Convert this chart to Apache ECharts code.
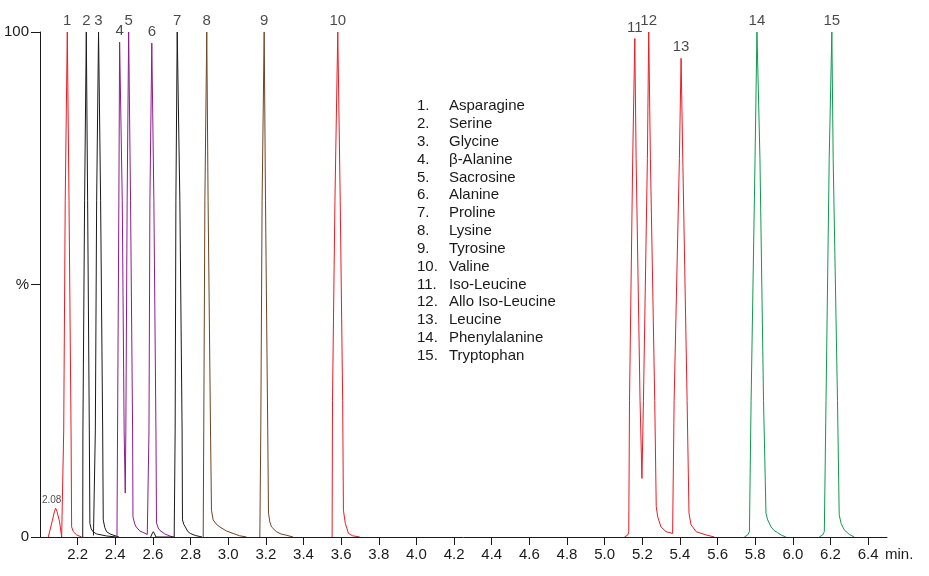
<!DOCTYPE html>
<html>
<head>
<meta charset="utf-8">
<title>Amino acid chromatogram</title>
<script src="https://cdn.jsdelivr.net/npm/echarts@6/dist/echarts.min.js"></script>
<style>
  html, body { margin: 0; padding: 0; background: #fff; }
  #chart { width: 929px; height: 576px; }
</style>
</head>
<body>
<div id="chart"></div>
<script>
// retention time (min) / relative intensity (%)
var xTicks = [2.2, 2.4, 2.6, 2.8, 3.0, 3.2, 3.4, 3.6, 3.8, 4.0, 4.2, 4.4, 4.6, 4.8, 5.0, 5.2, 5.4, 5.6, 5.8, 6.0, 6.2, 6.4];

var compounds = ['Asparagine', 'Serine', 'Glycine', 'β-Alanine', 'Sacrosine', 'Alanine', 'Proline', 'Lysine',
  'Tyrosine', 'Valine', 'Iso-Leucine', 'Allo Iso-Leucine', 'Leucine', 'Phenylalanine', 'Tryptophan'];

// small peak at 2.08 + peak 1
var traceAsparagine = [[2.044, 0], [2.064, 3.0], [2.077, 5.1], [2.083, 5.7], [2.090, 5.1], [2.104, 3.0], [2.115, 0],
  [2.124, 0], [2.126, 21], [2.134, 66.7], [2.145, 100], [2.154, 66.7], [2.165, 21], [2.168, 2.0], [2.177, 1.05],
  [2.195, 0.4], [2.221, 0]];
var traceSerine = [[2.227, 0], [2.228, 21], [2.237, 66.7], [2.246, 100], [2.253, 66.7], [2.262, 21], [2.265, 2.7],
  [2.272, 1.6], [2.283, 1.0], [2.301, 0.6], [2.354, 0.2], [2.407, 0]];
var traceGlycine = [[2.284, 0.3], [2.294, 21], [2.301, 66.7], [2.311, 100], [2.322, 66.7], [2.333, 21], [2.336, 3.4],
  [2.344, 1.9], [2.354, 1.05], [2.372, 0.6], [2.407, 0.15], [2.420, 0]];
// beta-alanine, sarcosine, alanine share one channel
var traceAlanines = [[2.409, 0], [2.412, 21], [2.419, 66.7], [2.423, 98], [2.437, 66.7], [2.447, 21], [2.453, 8.7],
  [2.456, 21], [2.463, 66.7], [2.471, 100], [2.481, 66.7], [2.492, 21], [2.494, 4.0], [2.503, 2.6], [2.511, 2.0],
  [2.530, 1.2], [2.548, 0.9], [2.570, 0.5], [2.577, 0.4], [2.579, 21], [2.584, 66.7], [2.594, 97.8], [2.605, 66.7],
  [2.616, 21], [2.619, 2.8], [2.628, 1.8], [2.637, 1.3], [2.663, 0.6], [2.690, 0.2], [2.708, 0]];
var traceProline = [[2.588, 0], [2.595, 0.6], [2.602, 1.05], [2.609, 0.6], [2.616, 0], [2.713, 0], [2.718, 21],
  [2.722, 66.7], [2.729, 100], [2.743, 66.7], [2.755, 21], [2.757, 3.4], [2.764, 2.5], [2.772, 2.0], [2.785, 1.1],
  [2.799, 0.7], [2.825, 0.3], [2.861, 0]];
var traceLysine = [[2.867, 0], [2.870, 21], [2.876, 66.7], [2.886, 100], [2.893, 66.7], [2.906, 21], [2.911, 5.3],
  [2.920, 3.4], [2.935, 2.6], [2.955, 2.0], [2.990, 1.2], [3.026, 0.7], [3.060, 0.25], [3.097, 0]];
var traceTyrosine = [[3.168, 0], [3.173, 21], [3.180, 66.7], [3.191, 100], [3.198, 66.7], [3.210, 21], [3.214, 4.7],
  [3.221, 3.0], [3.230, 2.0], [3.256, 1.05], [3.280, 0.6], [3.309, 0.35], [3.344, 0]];
var traceValine = [[3.552, 0], [3.554, 27], [3.567, 66.7], [3.582, 100], [3.595, 66.7], [3.608, 27], [3.612, 5.3],
  [3.622, 2.7], [3.639, 0.7], [3.660, 0.25], [3.699, 0]];
// iso-leucine, allo iso-leucine, leucine share one channel
var traceLeucines = [[5.105, 0], [5.123, 0.4], [5.128, 1.05], [5.132, 27], [5.149, 75], [5.160, 98.7], [5.167, 75],
  [5.188, 27], [5.198, 11.6], [5.206, 27], [5.227, 75], [5.234, 100], [5.243, 75], [5.266, 27], [5.274, 6.0],
  [5.282, 4.0], [5.299, 2.0], [5.326, 1.05], [5.361, 0.7], [5.369, 27], [5.397, 75], [5.406, 94.8], [5.415, 75],
  [5.438, 27], [5.448, 4.7], [5.459, 2.4], [5.486, 1.05], [5.539, 0.4], [5.583, 0]];
var tracePhenylalanine = [[5.742, 0], [5.760, 0.4], [5.769, 1.05], [5.778, 27], [5.799, 75], [5.809, 100],
  [5.825, 75], [5.844, 27], [5.857, 4.7], [5.866, 3.4], [5.884, 2.0], [5.900, 1.3], [5.919, 0.85], [5.940, 0.35],
  [5.963, 0]];
var traceTryptophan = [[6.140, 0], [6.158, 0.4], [6.167, 1.05], [6.176, 27], [6.193, 75], [6.207, 100], [6.214, 75],
  [6.237, 27], [6.246, 4.4], [6.256, 2.7], [6.273, 1.4], [6.300, 0.5], [6.326, 0]];

// peak number labels: [time, height, text]
var peakLabels = [[2.145, 100, '1'], [2.246, 100, '2'], [2.311, 100, '3'], [2.423, 98, '4'], [2.471, 100, '5'],
  [2.594, 97.8, '6'], [2.729, 100, '7'], [2.886, 100, '8'], [3.191, 100, '9'], [3.582, 100, '10'],
  [5.160, 98.7, '11'], [5.234, 100, '12'], [5.406, 94.8, '13'], [5.809, 100, '14'], [6.207, 100, '15']];
var smallLabels = [[2.083, 5.7, '2.08']];

var RED = '#ec1c24', BLACK = '#1a1a1a', PURPLE = '#8c1c8c', BROWN = '#6e4523', GREEN = '#0f9a4e';
var FONT = 'Liberation Sans, Arial, Helvetica, sans-serif';

var chart = echarts.init(document.getElementById('chart'), null, { renderer: 'canvas' });

function trace(name, data, color) {
  return {
    name: name,
    type: 'line',
    data: data,
    showSymbol: false,
    symbol: 'none',
    smooth: false,
    clip: false,
    animation: false,
    lineStyle: { color: color, width: 1 },
    z: 2
  };
}

var legendText = [];
compounds.forEach(function (c, i) {
  var y = 106 + i * 17.84;
  legendText.push({
    type: 'text', x: 417, y: y,
    style: { text: (i + 1) + '.', font: '15px ' + FONT, fill: '#1a1a1a', verticalAlign: 'middle' }
  });
  legendText.push({
    type: 'text', x: 449, y: y,
    style: { text: c, font: '15px ' + FONT, fill: '#1a1a1a', verticalAlign: 'middle' }
  });
});

var option = {
  animation: false,
  backgroundColor: '#fff',
  textStyle: { fontFamily: FONT, color: '#1a1a1a' },
  grid: { left: 40, right: 42, top: 32, bottom: 39, containLabel: false, outerBoundsMode: 'none' },
  xAxis: {
    type: 'value',
    min: 2.0,
    max: 6.5,
    z: 10,
    name: 'min.',
    nameLocation: 'end',
    nameGap: -2,
    nameTextStyle: { fontSize: 15, color: '#1a1a1a', fontFamily: FONT, verticalAlign: 'top', padding: [10, 0, 0, 0] },
    axisLine: { lineStyle: { color: '#1a1a1a', width: 1 } },
    axisTick: { customValues: xTicks, length: 8, lineStyle: { color: '#1a1a1a' } },
    axisLabel: {
      customValues: xTicks, margin: 10, fontSize: 15, color: '#1a1a1a', fontFamily: FONT,
      formatter: function (v) { return v.toFixed(1); }
    },
    splitLine: { show: false }
  },
  yAxis: {
    type: 'value',
    min: 0,
    max: 100,
    interval: 50,
    z: 10,
    axisLine: { show: true, lineStyle: { color: '#1a1a1a', width: 1 } },
    axisTick: { show: true, length: 9, lineStyle: { color: '#1a1a1a' } },
    axisLabel: {
      margin: 11, fontSize: 15, color: '#1a1a1a', fontFamily: FONT,
      formatter: function (v) { return v === 50 ? '%' : String(v); }
    },
    splitLine: { show: false }
  },
  series: [
    trace('Asparagine', traceAsparagine, RED),
    trace('Serine', traceSerine, BLACK),
    trace('Glycine', traceGlycine, BLACK),
    trace('Alanines', traceAlanines, PURPLE),
    trace('Proline', traceProline, BLACK),
    trace('Lysine', traceLysine, BROWN),
    trace('Tyrosine', traceTyrosine, BROWN),
    trace('Valine', traceValine, RED),
    trace('Leucines', traceLeucines, RED),
    trace('Phenylalanine', tracePhenylalanine, GREEN),
    trace('Tryptophan', traceTryptophan, GREEN),
    {
      type: 'scatter',
      data: peakLabels,
      symbolSize: 1,
      clip: false,
      silent: true,
      itemStyle: { color: 'rgba(0,0,0,0)' },
      label: {
        show: true, position: 'top', distance: 3, fontSize: 15, color: '#1a1a1a', fontFamily: FONT,
        formatter: function (p) { return p.data[2]; }
      },
      z: 5
    },
    {
      type: 'scatter',
      data: smallLabels,
      symbolSize: 1,
      clip: false,
      silent: true,
      itemStyle: { color: 'rgba(0,0,0,0)' },
      label: {
        show: true, position: 'top', distance: 2, offset: [-4, 0], fontSize: 10, color: '#1a1a1a', fontFamily: FONT,
        formatter: function (p) { return p.data[2]; }
      },
      z: 5
    }
  ],
  graphic: legendText
};

chart.setOption(option);
</script>
</body>
</html>
